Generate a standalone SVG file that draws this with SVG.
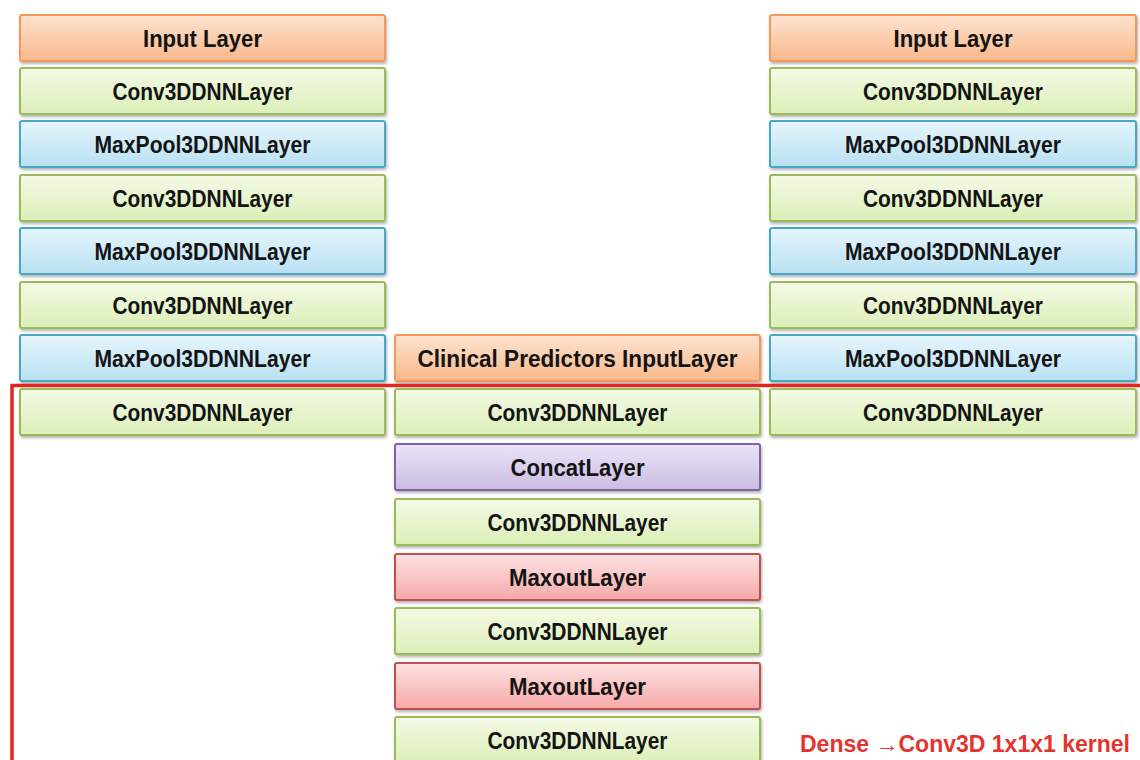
<svg xmlns="http://www.w3.org/2000/svg" width="1140" height="760" viewBox="0 0 1140 760">
  <defs>
    <linearGradient id="gOrange" x1="0" y1="0" x2="0" y2="1">
      <stop offset="0" stop-color="#fde3d0"/>
      <stop offset="1" stop-color="#f9b88a"/>
    </linearGradient>
    <linearGradient id="gGreen" x1="0" y1="0" x2="0" y2="1">
      <stop offset="0" stop-color="#f4fae6"/>
      <stop offset="1" stop-color="#dcefb8"/>
    </linearGradient>
    <linearGradient id="gBlue" x1="0" y1="0" x2="0" y2="1">
      <stop offset="0" stop-color="#e6f5fc"/>
      <stop offset="1" stop-color="#b8e1f3"/>
    </linearGradient>
    <linearGradient id="gPurple" x1="0" y1="0" x2="0" y2="1">
      <stop offset="0" stop-color="#ece4f6"/>
      <stop offset="1" stop-color="#cbbce4"/>
    </linearGradient>
    <linearGradient id="gRed" x1="0" y1="0" x2="0" y2="1">
      <stop offset="0" stop-color="#fde2e2"/>
      <stop offset="1" stop-color="#f6a9a9"/>
    </linearGradient>
    <filter id="shadow" x="-5%" y="-20%" width="110%" height="150%">
      <feDropShadow dx="1" dy="2" stdDeviation="1.5" flood-color="#000" flood-opacity="0.3"/>
    </filter>
  </defs>
  <style>
    rect.box { stroke-width: 2; filter: url(#shadow); }
    .input { fill: url(#gOrange); stroke: #f19a5c; }
    .conv { fill: url(#gGreen); stroke: #9bbb59; }
    .pool { fill: url(#gBlue); stroke: #4aa7c4; }
    .concat { fill: url(#gPurple); stroke: #8064a2; }
    .maxout { fill: url(#gRed); stroke: #c0504d; }
    text.lbl { font-family: "Liberation Sans", "DejaVu Sans", sans-serif; font-weight: bold; font-size: 23px; fill: #141414; text-anchor: middle; }
    text.note { font-family: "Liberation Sans", "DejaVu Sans", sans-serif; font-weight: bold; font-size: 23px; fill: #e3342f; }
    .region { fill: none; stroke: #e2261f; stroke-width: 3.5; }
  </style>

  <rect width="1140" height="760" fill="#ffffff"/>

  <!-- Left image branch -->
  <g id="left-input"><rect class="box input" x="20" y="15" width="365" height="46" rx="2"/><text class="lbl" x="202.5" y="47" textLength="119" lengthAdjust="spacingAndGlyphs">Input Layer</text></g>
  <g id="left-conv1"><rect class="box conv" x="20" y="68" width="365" height="46" rx="2"/><text class="lbl" x="202.5" y="100" textLength="180" lengthAdjust="spacingAndGlyphs">Conv3DDNNLayer</text></g>
  <g id="left-pool1"><rect class="box pool" x="20" y="121" width="365" height="46" rx="2"/><text class="lbl" x="202.5" y="153" textLength="216" lengthAdjust="spacingAndGlyphs">MaxPool3DDNNLayer</text></g>
  <g id="left-conv2"><rect class="box conv" x="20" y="175" width="365" height="46" rx="2"/><text class="lbl" x="202.5" y="207" textLength="180" lengthAdjust="spacingAndGlyphs">Conv3DDNNLayer</text></g>
  <g id="left-pool2"><rect class="box pool" x="20" y="228" width="365" height="46" rx="2"/><text class="lbl" x="202.5" y="260" textLength="216" lengthAdjust="spacingAndGlyphs">MaxPool3DDNNLayer</text></g>
  <g id="left-conv3"><rect class="box conv" x="20" y="282" width="365" height="46" rx="2"/><text class="lbl" x="202.5" y="314" textLength="180" lengthAdjust="spacingAndGlyphs">Conv3DDNNLayer</text></g>
  <g id="left-pool3"><rect class="box pool" x="20" y="335" width="365" height="46" rx="2"/><text class="lbl" x="202.5" y="367" textLength="216" lengthAdjust="spacingAndGlyphs">MaxPool3DDNNLayer</text></g>
  <g id="left-conv4"><rect class="box conv" x="20" y="389" width="365" height="46" rx="2"/><text class="lbl" x="202.5" y="421" textLength="180" lengthAdjust="spacingAndGlyphs">Conv3DDNNLayer</text></g>

  <!-- Middle clinical branch and merged head -->
  <g id="mid-input"><rect class="box input" x="395" y="335" width="365" height="46" rx="2"/><text class="lbl" x="577.5" y="367" textLength="320" lengthAdjust="spacingAndGlyphs">Clinical Predictors InputLayer</text></g>
  <g id="mid-conv1"><rect class="box conv" x="395" y="389" width="365" height="46" rx="2"/><text class="lbl" x="577.5" y="421" textLength="180" lengthAdjust="spacingAndGlyphs">Conv3DDNNLayer</text></g>
  <g id="mid-concat"><rect class="box concat" x="395" y="444" width="365" height="46" rx="2"/><text class="lbl" x="577.5" y="476" textLength="134" lengthAdjust="spacingAndGlyphs">ConcatLayer</text></g>
  <g id="mid-conv2"><rect class="box conv" x="395" y="499" width="365" height="46" rx="2"/><text class="lbl" x="577.5" y="531" textLength="180" lengthAdjust="spacingAndGlyphs">Conv3DDNNLayer</text></g>
  <g id="mid-maxout1"><rect class="box maxout" x="395" y="554" width="365" height="46" rx="2"/><text class="lbl" x="577.5" y="586" textLength="137" lengthAdjust="spacingAndGlyphs">MaxoutLayer</text></g>
  <g id="mid-conv3"><rect class="box conv" x="395" y="608" width="365" height="46" rx="2"/><text class="lbl" x="577.5" y="640" textLength="180" lengthAdjust="spacingAndGlyphs">Conv3DDNNLayer</text></g>
  <g id="mid-maxout2"><rect class="box maxout" x="395" y="663" width="365" height="46" rx="2"/><text class="lbl" x="577.5" y="695" textLength="137" lengthAdjust="spacingAndGlyphs">MaxoutLayer</text></g>
  <g id="mid-conv4"><rect class="box conv" x="395" y="717" width="365" height="46" rx="2"/><text class="lbl" x="577.5" y="749" textLength="180" lengthAdjust="spacingAndGlyphs">Conv3DDNNLayer</text></g>

  <!-- Right image branch -->
  <g id="right-input"><rect class="box input" x="770" y="15" width="366" height="46" rx="2"/><text class="lbl" x="953" y="47" textLength="119" lengthAdjust="spacingAndGlyphs">Input Layer</text></g>
  <g id="right-conv1"><rect class="box conv" x="770" y="68" width="366" height="46" rx="2"/><text class="lbl" x="953" y="100" textLength="180" lengthAdjust="spacingAndGlyphs">Conv3DDNNLayer</text></g>
  <g id="right-pool1"><rect class="box pool" x="770" y="121" width="366" height="46" rx="2"/><text class="lbl" x="953" y="153" textLength="216" lengthAdjust="spacingAndGlyphs">MaxPool3DDNNLayer</text></g>
  <g id="right-conv2"><rect class="box conv" x="770" y="175" width="366" height="46" rx="2"/><text class="lbl" x="953" y="207" textLength="180" lengthAdjust="spacingAndGlyphs">Conv3DDNNLayer</text></g>
  <g id="right-pool2"><rect class="box pool" x="770" y="228" width="366" height="46" rx="2"/><text class="lbl" x="953" y="260" textLength="216" lengthAdjust="spacingAndGlyphs">MaxPool3DDNNLayer</text></g>
  <g id="right-conv3"><rect class="box conv" x="770" y="282" width="366" height="46" rx="2"/><text class="lbl" x="953" y="314" textLength="180" lengthAdjust="spacingAndGlyphs">Conv3DDNNLayer</text></g>
  <g id="right-pool3"><rect class="box pool" x="770" y="335" width="366" height="46" rx="2"/><text class="lbl" x="953" y="367" textLength="216" lengthAdjust="spacingAndGlyphs">MaxPool3DDNNLayer</text></g>
  <g id="right-conv4"><rect class="box conv" x="770" y="389" width="366" height="46" rx="2"/><text class="lbl" x="953" y="421" textLength="180" lengthAdjust="spacingAndGlyphs">Conv3DDNNLayer</text></g>

  <!-- Highlighted dense-as-conv region -->
  <g id="connectors">
    <path class="region" d="M12,762 V385.5 H1142"/>
  </g>

  <g id="note">
    <text class="note" x="800" y="752" textLength="330" lengthAdjust="spacingAndGlyphs">Dense →Conv3D 1x1x1 kernel</text>
  </g>
</svg>
